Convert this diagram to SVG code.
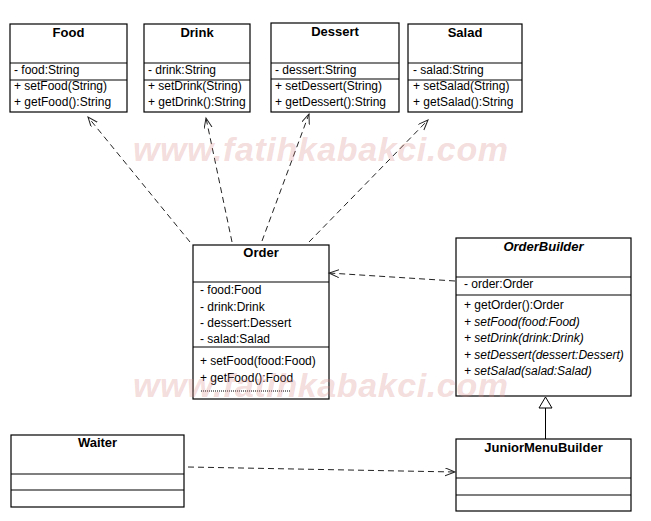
<svg xmlns="http://www.w3.org/2000/svg" width="651" height="521" viewBox="0 0 651 521">
<defs>
<style>
.box{fill:#fff;stroke:#000;stroke-width:1.2}
.sep{stroke:#000;stroke-width:1.2}
.t{font-family:"Liberation Sans",Arial,sans-serif;font-size:12px;fill:#000}
.ti{font-family:"Liberation Sans",Arial,sans-serif;font-size:13px;font-weight:bold;fill:#000;text-anchor:middle}
.it{font-style:italic}
.dep{fill:none;stroke:#222;stroke-width:1;stroke-dasharray:6,4;marker-end:url(#open)}
.wm{font-family:"Liberation Sans",Arial,sans-serif;font-size:34px;font-weight:bold;font-style:italic;fill:#d98a8a;fill-opacity:0.3}
</style>
<marker id="open" markerWidth="12" markerHeight="10" refX="10" refY="4" orient="auto" markerUnits="userSpaceOnUse">
<path d="M0,0 L10,4 L0,8" fill="none" stroke="#222" stroke-width="1"/>
</marker>
</defs>
<rect width="651" height="521" fill="#fff"/>

<g id="food">
<rect class="box" x="10" y="24" width="117" height="88"/>
<line class="sep" x1="10" y1="63" x2="127" y2="63"/>
<line class="sep" x1="10" y1="80" x2="127" y2="80"/>
<text class="ti" x="68.5" y="37">Food</text>
<text class="t" x="14" y="74">- food:String</text>
<text class="t" x="14" y="90">+ setFood(String)</text>
<text class="t" x="14" y="106">+ getFood():String</text>
</g>

<g id="drink">
<rect class="box" x="144" y="24" width="106" height="88"/>
<line class="sep" x1="144" y1="63" x2="250" y2="63"/>
<line class="sep" x1="144" y1="80" x2="250" y2="80"/>
<text class="ti" x="197" y="37">Drink</text>
<text class="t" x="148" y="74">- drink:String</text>
<text class="t" x="148" y="90">+ setDrink(String)</text>
<text class="t" x="148" y="106">+ getDrink():String</text>
</g>

<g id="dessert">
<rect class="box" x="271" y="23" width="128" height="89"/>
<line class="sep" x1="271" y1="63" x2="399" y2="63"/>
<line class="sep" x1="271" y1="79" x2="399" y2="79"/>
<text class="ti" x="335" y="36">Dessert</text>
<text class="t" x="275" y="74">- dessert:String</text>
<text class="t" x="275" y="90">+ setDessert(String)</text>
<text class="t" x="275" y="106">+ getDessert():String</text>
</g>

<g id="salad">
<rect class="box" x="408" y="24" width="114" height="88"/>
<line class="sep" x1="408" y1="63" x2="522" y2="63"/>
<line class="sep" x1="408" y1="80" x2="522" y2="80"/>
<text class="ti" x="465" y="37">Salad</text>
<text class="t" x="413" y="74">- salad:String</text>
<text class="t" x="413" y="90">+ setSalad(String)</text>
<text class="t" x="413" y="106">+ getSalad():String</text>
</g>

<g id="order">
<rect class="box" x="193" y="245" width="136" height="154"/>
<line class="sep" x1="193" y1="282" x2="329" y2="282"/>
<line class="sep" x1="193" y1="347" x2="329" y2="347"/>
<text class="ti" x="261" y="257">Order</text>
<text class="t" x="200" y="294">- food:Food</text>
<text class="t" x="200" y="311">- drink:Drink</text>
<text class="t" x="200" y="327">- dessert:Dessert</text>
<text class="t" x="200" y="343">- salad:Salad</text>
<text class="t" x="200" y="365">+ setFood(food:Food)</text>
<text class="t" x="200" y="382">+ getFood():Food</text>
<line x1="201" y1="391" x2="291" y2="391" stroke="#000" stroke-width="1" stroke-dasharray="1,1"/>
</g>

<g id="orderbuilder">
<rect class="box" x="456" y="238" width="175" height="158"/>
<line class="sep" x1="456" y1="277" x2="631" y2="277"/>
<line class="sep" x1="456" y1="295" x2="631" y2="295"/>
<text class="ti it" x="543.5" y="251">OrderBuilder</text>
<text class="t" x="464" y="288">- order:Order</text>
<text class="t" x="464" y="309">+ getOrder():Order</text>
<text class="t it" x="464" y="326">+ setFood(food:Food)</text>
<text class="t it" x="464" y="342">+ setDrink(drink:Drink)</text>
<text class="t it" x="464" y="359">+ setDessert(dessert:Dessert)</text>
<text class="t it" x="464" y="375">+ setSalad(salad:Salad)</text>
</g>

<g id="waiter">
<rect class="box" x="11" y="435" width="173" height="72"/>
<line class="sep" x1="11" y1="474" x2="184" y2="474"/>
<line class="sep" x1="11" y1="490" x2="184" y2="490"/>
<text class="ti" x="97.5" y="447">Waiter</text>
</g>

<g id="juniormenubuilder">
<rect class="box" x="456" y="439" width="175" height="72"/>
<line class="sep" x1="456" y1="478" x2="631" y2="478"/>
<line class="sep" x1="456" y1="495" x2="631" y2="495"/>
<text class="ti" x="543.5" y="452">JuniorMenuBuilder</text>
</g>

<g id="connectors">
<line class="dep" x1="190" y1="242" x2="88" y2="117"/>
<line class="dep" x1="232" y1="242" x2="206" y2="118"/>
<line class="dep" x1="262" y1="241" x2="309" y2="114"/>
<line class="dep" x1="309" y1="242" x2="428" y2="120"/>
<line class="dep" x1="455" y1="281" x2="329" y2="273"/>
<line class="dep" x1="188" y1="467" x2="455" y2="472" stroke="#555"/>
<line x1="545.5" y1="408" x2="545.5" y2="439" stroke="#000" stroke-width="1"/>
<path d="M545.5,397 L552,408 L539,408 Z" fill="#fff" stroke="#000" stroke-width="1"/>
</g>

<text class="wm" x="133" y="161" textLength="375" lengthAdjust="spacing">www.fatihkabakci.com</text>
<text class="wm" x="133" y="397" textLength="375" lengthAdjust="spacing">www.fatihkabakci.com</text>
</svg>
